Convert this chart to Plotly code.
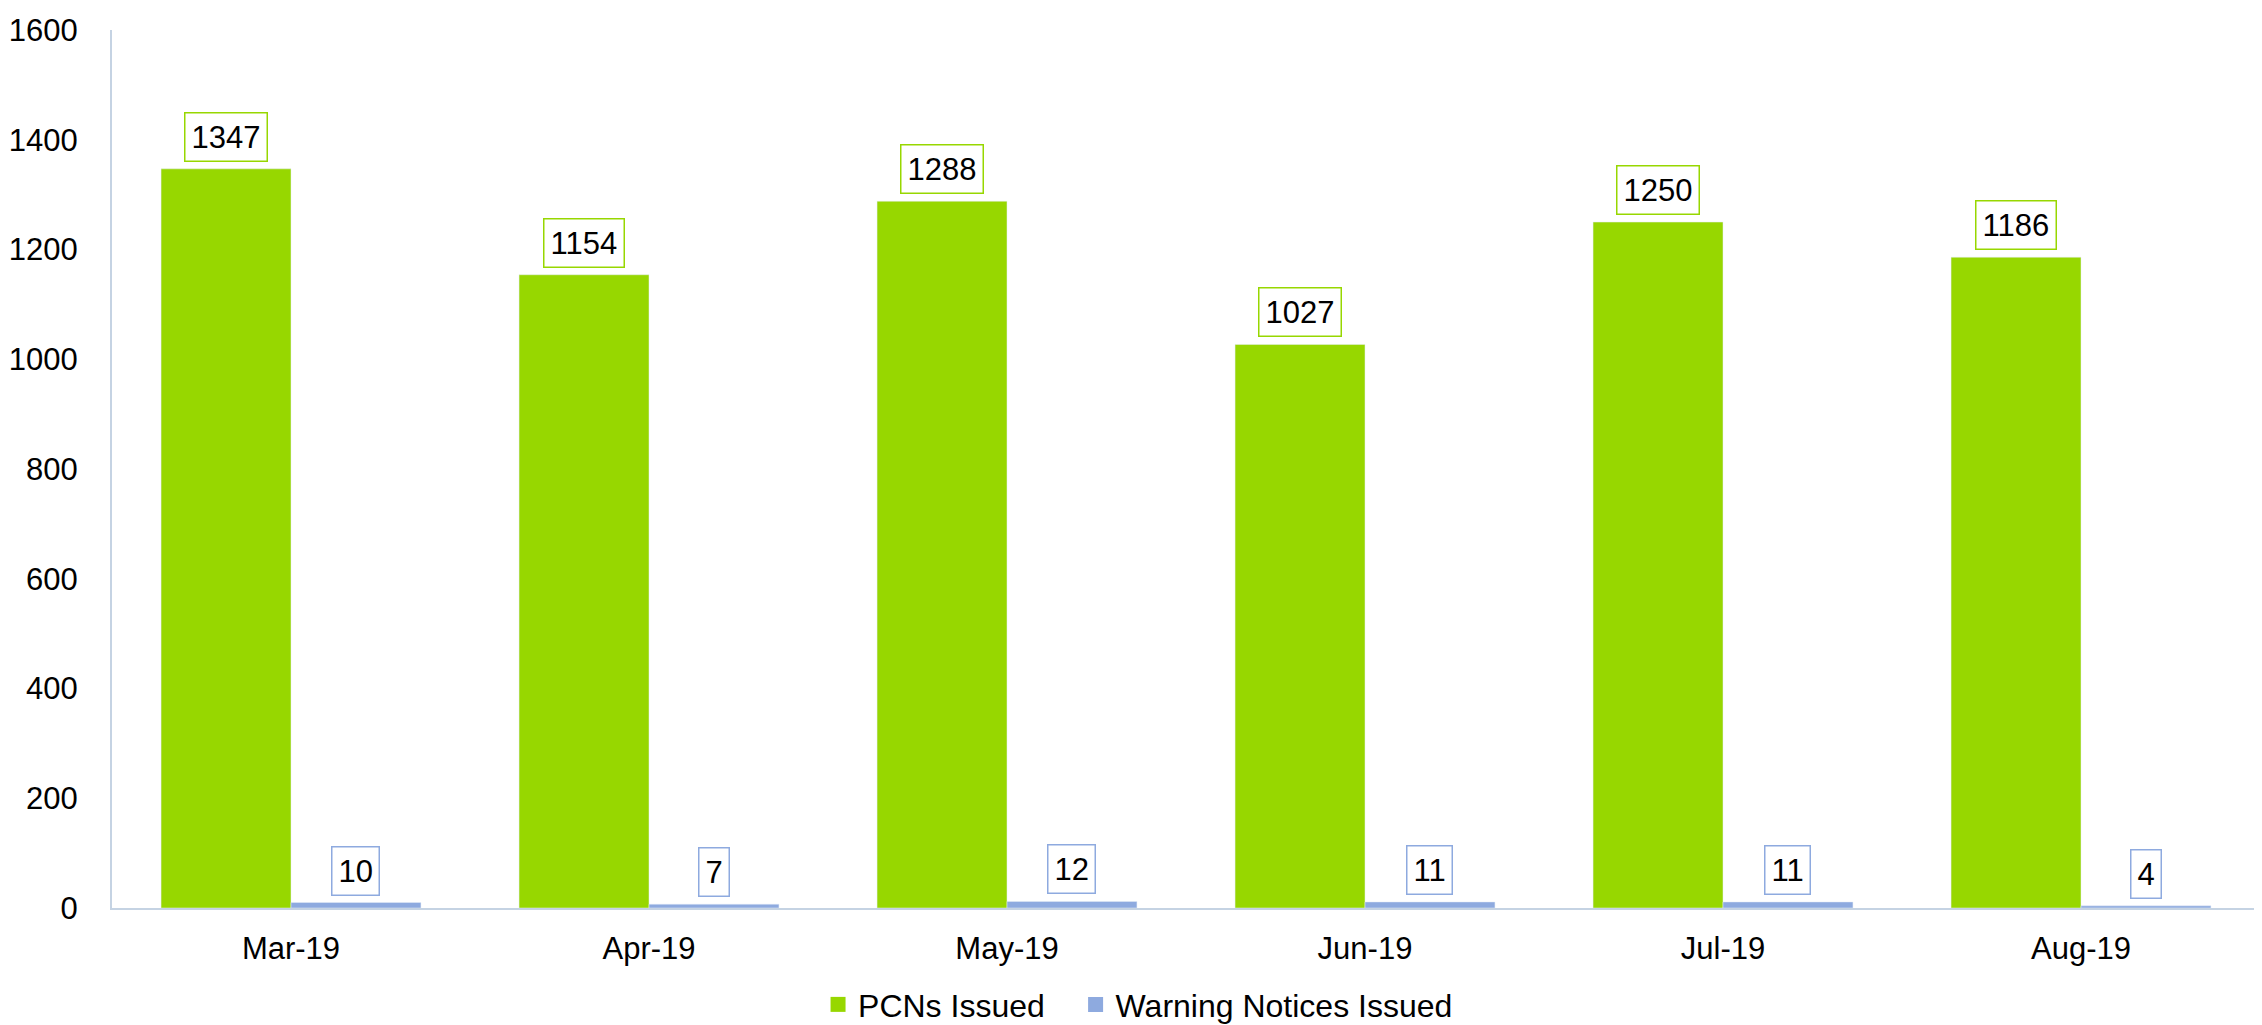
import plotly.graph_objects as go

months = ["Mar-19", "Apr-19", "May-19", "Jun-19", "Jul-19", "Aug-19"]
pcns = [1347, 1154, 1288, 1027, 1250, 1186]
warnings = [10, 7, 12, 11, 11, 4]
series_names = ["PCNs Issued", "Warning Notices Issued"]

GREEN = "#97D700"
BLUE = "#8EAADF"
AXIS = "#C5D3E3"
FONT = "Liberation Sans, Arial, sans-serif"
BARGAP = 0.274

fig = go.Figure()
fig.add_trace(go.Bar(x=months, y=pcns, name=series_names[0], marker_color=GREEN, showlegend=False))
fig.add_trace(go.Bar(x=months, y=warnings, name=series_names[1], marker_color=BLUE, showlegend=False))
# legend entries with larger square swatches, each in its own legend box
for nm, col, lg in zip(series_names, (GREEN, BLUE), ("legend", "legend2")):
    fig.add_trace(go.Scatter(x=[None], y=[None], mode="markers", name=nm, legend=lg,
                             marker=dict(symbol="square", size=15, color=col)))

off = (1 - BARGAP) / 4
for i, m in enumerate(months):
    for vals, col, sign in ((pcns, GREEN, -1), (warnings, BLUE, 1)):
        fig.add_annotation(
            x=i + sign * off, y=vals[i], xref="x", yref="y",
            text=str(vals[i]), showarrow=False, yanchor="bottom", yshift=7,
            font=dict(size=31, color="#000000", family=FONT),
            bordercolor=col, borderwidth=1.5, borderpad=6, bgcolor="white",
        )

leg_common = dict(orientation="h", xanchor="left", y=-0.11, yanchor="middle",
                  font=dict(size=32), itemwidth=30, bgcolor="rgba(0,0,0,0)")
fig.update_layout(
    width=2254, height=1017,
    margin=dict(l=104, r=2, t=22, b=117, autoexpand=False),
    barmode="group", bargap=BARGAP, bargroupgap=0,
    plot_bgcolor="white", paper_bgcolor="white",
    font=dict(family=FONT, size=31, color="#000000"),
    showlegend=True,
    legend=dict(x=0.3287, **leg_common),
    legend2=dict(x=0.4486, **leg_common),
    xaxis=dict(showline=True, linecolor=AXIS, linewidth=2, ticks="", showgrid=False,
               tickfont=dict(size=31), ticklabelstandoff=12, automargin=False,
               ticklabeloverflow="allow"),
    yaxis=dict(range=[0, 1600], dtick=200, showline=True, linecolor=AXIS, linewidth=2,
               showgrid=False, zeroline=False, ticks="", tickfont=dict(size=31),
               ticklabelstandoff=26, automargin=False, ticklabeloverflow="allow"),
)

fig.write_html("out.html")
